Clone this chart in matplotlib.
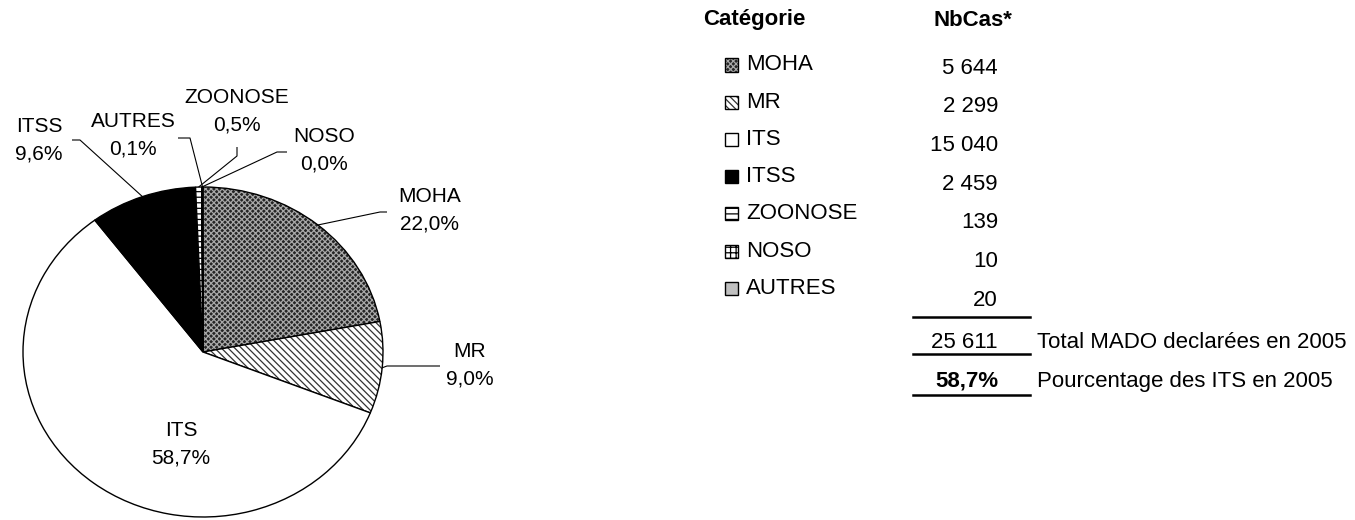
import matplotlib
matplotlib.use('Agg')
import matplotlib.pyplot as plt
from matplotlib.patches import Rectangle
import matplotlib.colors as mcolors
import numpy as np

# ---------------- data ----------------
categories = ['MOHA', 'MR', 'ITS', 'ITSS', 'ZOONOSE', 'NOSO', 'AUTRES']
nb_cas = [5644, 2299, 15040, 2459, 139, 10, 20]
year = 2005
highlight = 'ITS'
header_cat = 'Catégorie'
header_nb = 'NbCas*'
total_label = f'Total MADO declarées en {year}'
pct_label = f'Pourcentage des ITS en {year}'

# ---------------- styles ----------------
styles = {
    'MOHA':    dict(face='#262626', hatch='xxxxxx', hcolor='#a8a8a8'),
    'MR':      dict(face='white', hatch='\\\\\\\\\\', hcolor='#333333'),
    'ITS':     dict(face='white', hatch=None, hcolor='black'),
    'ITSS':    dict(face='black', hatch=None, hcolor='black'),
    'ZOONOSE': dict(face='white', hatch='---', hcolor='black'),
    'NOSO':    dict(face='white', hatch='+++', hcolor='black'),
    'AUTRES':  dict(face='#c0c0c0', hatch=None, hcolor='black'),
}

W, H = 1355, 520
plt.rcParams['font.family'] = ['Liberation Sans', 'DejaVu Sans']
plt.rcParams['hatch.linewidth'] = 0.9
FS = 15
FT = 16

fig = plt.figure(figsize=(W / 100, H / 100), dpi=100)
ax = fig.add_axes([0, 0, 1, 1])

cx, cy = 203, 352      # pie centre, pixels from top-left
rx, ry = 180, 165      # pie radii in pixels (slightly elliptical)


def to_data(px, py):
    return (px - cx) / rx, (cy - py) / ry


def fx(px):
    return px / W


def fy(py):
    return 1 - py / H


wedges, _ = ax.pie(nb_cas, startangle=90, counterclock=False, radius=1,
                   wedgeprops=dict(edgecolor='black', linewidth=1.0))
ax.set_aspect('auto')
ax.set_xlim(-cx / rx, (W - cx) / rx)
ax.set_ylim(-(H - cy) / ry, cy / ry)
ax.axis('off')

for w, cat in zip(wedges, categories):
    st = styles[cat]
    w.set_facecolor(st['face'])
    if st['hatch']:
        w.set_hatch(st['hatch'])
        w._hatch_color = mcolors.to_rgba(st['hcolor'])

total = sum(nb_cas)
pcts = [100 * v / total for v in nb_cas]


def fmt_pct(p):
    return f'{p:.1f}'.replace('.', ',') + '%'


def fmt_int(v):
    return f'{v:,}'.replace(',', ' ')


# label block centres (pixels) and leader-line elbows (pixels)
label_pos = {
    'ITSS': (39, 140), 'AUTRES': (133, 135), 'ZOONOSE': (237, 111),
    'NOSO': (324, 150), 'MOHA': (430, 210), 'MR': (470, 365), 'ITS': (181, 444),
}
elbows = {
    'ITSS': [(72, 140), (80, 140)],
    'AUTRES': [(178, 138), (190, 138)],
    'ZOONOSE': [(237, 147), (237, 156)],
    'NOSO': [(287, 152), (277, 152)],
    'MOHA': [(387, 212), (380, 212)],
    'MR': [(440, 366), (387, 366)],
}

for w, cat, p in zip(wedges, categories, pcts):
    lx, ly = to_data(*label_pos[cat])
    ax.text(lx, ly, f'{cat}\n{fmt_pct(p)}', ha='center', va='center',
            fontsize=FS, linespacing=1.55)
    if cat in elbows:
        mid = np.deg2rad((w.theta1 + w.theta2) / 2)
        ex, ey = np.cos(mid), np.sin(mid)
        pts = [to_data(*q) for q in elbows[cat]] + [(ex, ey)]
        xs, ys = zip(*pts)
        ax.plot(xs, ys, color='black', lw=0.8, solid_capstyle='butt')

# ---------------- table / legend ----------------
fig.text(fx(703), fy(20), header_cat, ha='left', va='center', fontsize=FT,
         fontweight='bold')
fig.text(fx(973), fy(20), header_nb, ha='center', va='center', fontsize=FT,
         fontweight='bold')

row0, drow = 65, 37.2
num0, dnum = 68, 38.7
sq = 13
for i, (cat, v) in enumerate(zip(categories, nb_cas)):
    y = row0 + i * drow
    st = styles[cat]
    r = Rectangle((fx(725), fy(y + sq / 2)), sq / W, sq / H,
                  transform=fig.transFigure, facecolor=st['face'],
                  edgecolor='black', lw=1.0, hatch=st['hatch'])
    if st['hatch']:
        r._hatch_color = mcolors.to_rgba(st['hcolor'])
    fig.add_artist(r)
    fig.text(fx(746), fy(y), cat, ha='left', va='center', fontsize=FT)
    fig.text(fx(998), fy(num0 + i * dnum), fmt_int(v), ha='right',
             va='center', fontsize=FT)

for yl in (317, 354, 395):
    fig.add_artist(plt.Line2D([fx(913), fx(1030)], [fy(yl), fy(yl)],
                              transform=fig.transFigure, color='black', lw=1.8))

fig.text(fx(998), fy(342), fmt_int(total), ha='right', va='center', fontsize=FT)
fig.text(fx(1037), fy(342), total_label, ha='left', va='center', fontsize=FT)
its_pct = pcts[categories.index(highlight)]
fig.text(fx(998), fy(381), fmt_pct(its_pct), ha='right', va='center',
         fontsize=FT, fontweight='bold')
fig.text(fx(1037), fy(381), pct_label, ha='left', va='center', fontsize=FT)

fig.savefig('out.png', dpi=100)
